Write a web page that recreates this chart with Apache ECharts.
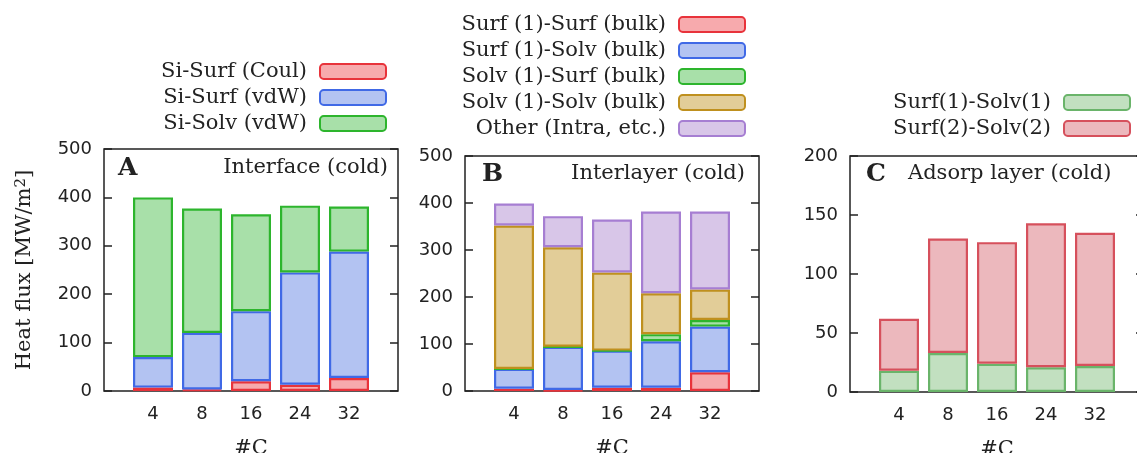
<!DOCTYPE html>
<html><head><meta charset="utf-8">
<script src="https://cdn.jsdelivr.net/npm/echarts@6/dist/echarts.min.js"></script>
<style>html,body{margin:0;padding:0;background:#fff}#c{width:1137px;height:453px}</style>
</head><body><div id="c"></div>
<script>
// tick labels (#C)
const categories = ['4', '8', '16', '24', '32'];
// Panel A: Interface (cold)
const aSiSurfCoul = [7, 3, 20, 13, 27];
const aSiSurfVdw = [63, 117, 145, 232, 261];
const aSiSolvVdw = [330, 257, 200, 138, 93];
// Panel B: Interlayer (cold)
const bSurfSurf = [5, 2, 7, 7, 40];
const bSurfSolv = [42, 92, 79, 99, 97];
const bSolvSurf = [0, 0, 0, 15, 14];
const bSolvSolv = [305, 212, 166, 87, 65];
const bOther = [47, 66, 113, 174, 166];
// Panel C: Adsorp layer (cold)
const cSurf1Solv1 = [18, 33, 24, 21, 22];
const cSurf2Solv2 = [44, 97, 103, 122, 113];

const SERIF = '"DejaVu Serif", "Liberation Serif", serif';
const SANS = '"DejaVu Sans", sans-serif';
const INK = '#222';

const pad = a => [null, ...a, null];
const xCats = ['', ...categories, ''];

const grids = [
  {left: 104, top: 149, width: 294, height: 242},
  {left: 465, top: 156, width: 294, height: 235},
  {left: 850, top: 156, width: 294, height: 236}
].map(g => Object.assign({show: true, borderColor: INK, borderWidth: 1.5, backgroundColor: 'transparent',
  containLabel: false, outerBoundsMode: 'none'}, g));

const xAxes = [0, 1, 2].map(i => ({
  type: 'category', gridIndex: i, data: xCats, boundaryGap: false,
  axisLine: {show: false}, axisTick: {show: false},
  axisLabel: {interval: 0, fontFamily: SANS, fontSize: 18, color: INK, margin: 14},
  name: '#C', nameLocation: 'middle', nameGap: 47,
  nameTextStyle: {fontFamily: SERIF, fontSize: 21, color: INK}
}));

function yPair(i, max, interval) {
  const base = {type: 'value', gridIndex: i, min: 0, max: max, interval: interval,
    splitLine: {show: false}, axisLine: {show: false},
    axisTick: {show: true, inside: true, length: 8, lineStyle: {color: INK, width: 1.5}}};
  return [
    Object.assign({}, base, {position: 'left',
      axisLabel: {fontFamily: SANS, fontSize: 18, color: INK, margin: 12}}),
    Object.assign({}, base, {position: 'right', axisLabel: {show: false}})
  ];
}
const yAxes = [...yPair(0, 500, 100), ...yPair(1, 500, 100), ...yPair(2, 200, 50)];

function bar(name, data, panel, fill, border) {
  return {
    type: 'bar', name: name, data: pad(data), xAxisIndex: panel, yAxisIndex: panel * 2,
    stack: 'p' + panel, barWidth: 40,
    itemStyle: {color: fill, borderColor: border, borderWidth: 2.2}
  };
}
const RED = ['#f7aaad', '#e8333b'], BLUE = ['#b3c3f2', '#4069e6'], GREEN = ['#a8e0a9', '#2db52d'];
const TAN = ['#e2cd98', '#bf901e'], PURP = ['#d8c6e8', '#a67ed2'];
const CGREEN = ['#c2e0c0', '#6ab46a'], CRED = ['#ecb8bd', '#d6505c'];

const series = [
  bar('Si-Surf (Coul)', aSiSurfCoul, 0, ...RED),
  bar('Si-Surf (vdW)', aSiSurfVdw, 0, ...BLUE),
  bar('Si-Solv (vdW)', aSiSolvVdw, 0, ...GREEN),
  bar('Surf (1)-Surf (bulk)', bSurfSurf, 1, ...RED),
  bar('Surf (1)-Solv (bulk)', bSurfSolv, 1, ...BLUE),
  bar('Solv (1)-Surf (bulk)', bSolvSurf, 1, ...GREEN),
  bar('Solv (1)-Solv (bulk)', bSolvSolv, 1, ...TAN),
  bar('Other (Intra, etc.)', bOther, 1, ...PURP),
  bar('Surf(1)-Solv(1)', cSurf1Solv1, 2, ...CGREEN),
  bar('Surf(2)-Solv(2)', cSurf2Solv2, 2, ...CRED)
];

function legend(names, right, top) {
  return {
    data: names, orient: 'vertical', align: 'right', right: right, top: top, padding: 0,
    icon: 'roundRect', itemWidth: 66, itemHeight: 15, itemGap: 5, selectedMode: false,
    textStyle: {fontFamily: SERIF, fontSize: 21, color: INK, padding: [0, 8, 0, 0]}
  };
}
const legends = [
  legend(['Si-Surf (Coul)', 'Si-Surf (vdW)', 'Si-Solv (vdW)'], 750, 61),
  legend(['Surf (1)-Surf (bulk)', 'Surf (1)-Solv (bulk)', 'Solv (1)-Surf (bulk)', 'Solv (1)-Solv (bulk)', 'Other (Intra, etc.)'], 391, 14),
  legend(['Surf(1)-Solv(1)', 'Surf(2)-Solv(2)'], 6, 92)
];

function txt(x, y, text, opts) {
  return {type: 'text', x: x, y: y, z: 100, style: Object.assign({text: text, fontFamily: SERIF, fontSize: 21, fill: INK, textVerticalAlign: 'middle'}, opts || {})};
}
const graphics = [
  txt(118, 168, 'A', {fontWeight: 'bold', fontSize: 25}),
  txt(388, 168, 'Interface (cold)', {textAlign: 'right'}),
  txt(482, 174, 'B', {fontWeight: 'bold', fontSize: 25}),
  txt(745, 174, 'Interlayer (cold)', {textAlign: 'right'}),
  txt(866, 174, 'C', {fontWeight: 'bold', fontSize: 25}),
  txt(908, 174, 'Adsorp layer (cold)', {textAlign: 'left'}),
  {type: 'text', x: 25, y: 270, rotation: Math.PI / 2, z: 100,
   style: {text: 'Heat flux [MW/m{sup|2}]', fontFamily: SERIF, fontSize: 21, fill: INK,
     textAlign: 'center', textVerticalAlign: 'middle',
     rich: {sup: {fontFamily: SERIF, fontSize: 15, fill: INK, verticalAlign: 'top', padding: [0, 0, 8, 0]}}}}
];

const chart = echarts.init(document.getElementById('c'), null, {renderer: 'canvas'});
chart.setOption({
  animation: false,
  backgroundColor: '#fff',
  grid: grids, xAxis: xAxes, yAxis: yAxes, series: series,
  legend: legends, graphic: graphics
});
</script></body></html>
